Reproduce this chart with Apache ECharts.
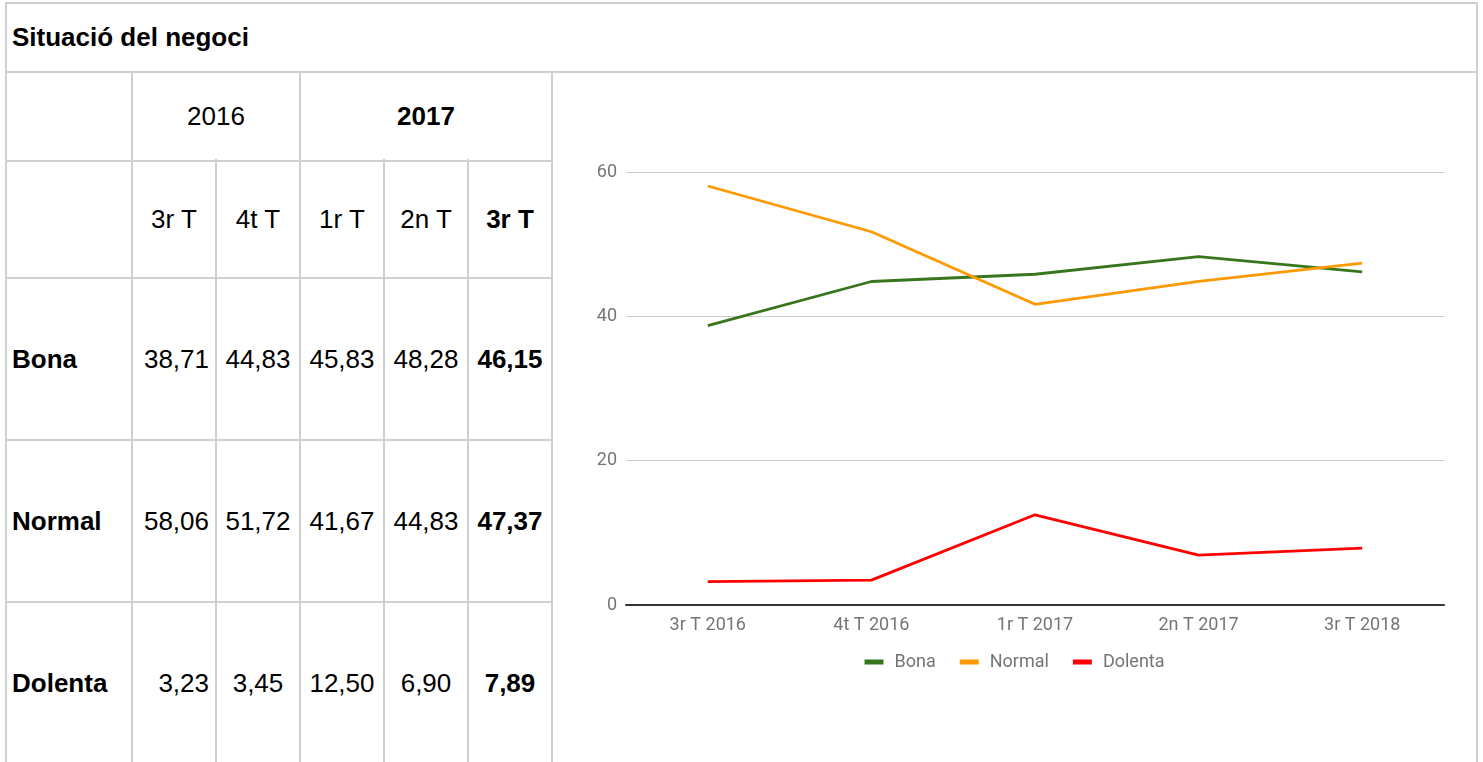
<!DOCTYPE html>
<html>
<head>
<meta charset="utf-8">
<script src="https://cdn.jsdelivr.net/npm/echarts@6/dist/echarts.min.js"></script>
<style>
  html, body { margin: 0; padding: 0; background: #fff; width: 1483px; height: 762px; overflow: hidden; }
  #page { position: relative; width: 1483px; height: 762px; font-family: "Liberation Sans", Arial, sans-serif; color: #000; }
  .ln { position: absolute; background: #d0d0d0; }
  .cell { position: absolute; display: flex; align-items: center; font-size: 26px; white-space: nowrap; box-sizing: border-box; }
  #chart { position: absolute; left: 553px; top: 73px; width: 923px; height: 689px; }
</style>
</head>
<body>
<div id="page"></div>
<div id="chart"></div>
<script>
// ---- data ----
const title = "Situació del negoci";
const years = ["2016", "2017"];
const quarters = ["3r T", "4t T", "1r T", "2n T", "3r T"];
const seriesNames = ["Bona", "Normal", "Dolenta"];
const bona = [38.71, 44.83, 45.83, 48.28, 46.15];
const normal = [58.06, 51.72, 41.67, 44.83, 47.37];
const dolenta = [3.23, 3.45, 12.50, 6.90, 7.89];
const chartCategories = ["3r T 2016", "4t T 2016", "1r T 2017", "2n T 2017", "3r T 2018"];
const yTicks = [0, 20, 40, 60];
const colors = ["#38761d", "#ff9900", "#ff0000"];

// ---- table layout ----
const page = document.getElementById('page');
const cols = [6, 132, 216, 300, 384, 468, 552];
const xRight = 1477;
const rowY = [3, 72, 161, 278, 440, 602, 764];

function line(x, y, w, h) {
  const d = document.createElement('div');
  d.className = 'ln';
  d.style.left = x + 'px'; d.style.top = y + 'px';
  d.style.width = w + 'px'; d.style.height = h + 'px';
  page.appendChild(d);
}
function hline(x1, x2, y) { line(x1 - 1, y - 1, x2 - x1 + 2, 2); }
function vline(x, y1, y2) { line(x - 1, y1 - 1, 2, y2 - y1 + 2); }

function cell(x1, x2, y1, y2, text, opts) {
  opts = opts || {};
  const d = document.createElement('div');
  d.className = 'cell';
  d.style.left = x1 + 'px'; d.style.top = y1 + 'px';
  d.style.width = (x2 - x1) + 'px'; d.style.height = (y2 - y1) + 'px';
  d.style.justifyContent = opts.align || 'center';
  if (opts.padL) d.style.paddingLeft = opts.padL + 'px';
  if (opts.padR) d.style.paddingRight = opts.padR + 'px';
  if (opts.bold) d.style.fontWeight = 'bold';
  d.textContent = text;
  page.appendChild(d);
}

// lines
hline(cols[0], xRight, rowY[0]);
hline(cols[0], xRight, rowY[1]);
for (let i = 2; i <= 5; i++) hline(cols[0], cols[6], rowY[i]);
vline(cols[0], rowY[0], 762);
vline(xRight, rowY[0], 762);
vline(cols[1], rowY[1], 762);
vline(cols[3], rowY[1], 762);
vline(cols[6], rowY[1], 762);
vline(cols[2], rowY[2] - 1, 762);
vline(cols[4], rowY[2] - 1, 762);
vline(cols[5], rowY[2] - 1, 762);

// title
cell(cols[0], xRight, rowY[0], rowY[1], title, { align: 'flex-start', padL: 6, bold: true });
// years
cell(cols[1], cols[3], rowY[1], rowY[2], years[0]);
cell(cols[3], cols[6], rowY[1], rowY[2], years[1], { bold: true });
// quarters
quarters.forEach((q, i) => {
  cell(cols[i + 1], cols[i + 2], rowY[2], rowY[3], q, { bold: i === quarters.length - 1 });
});
// data rows
const tableData = [bona, normal, dolenta];
const fmt = v => v.toFixed(2).replace('.', ',');
seriesNames.forEach((name, r) => {
  const y1 = rowY[3 + r], y2 = rowY[4 + r];
  cell(cols[0], cols[1], y1, y2, name, { align: 'flex-start', padL: 6, bold: true });
  tableData[r].forEach((v, i) => {
    const last = i === tableData[r].length - 1;
    if (i === 0) cell(cols[1], cols[2], y1, y2, fmt(v), { align: 'flex-end', padR: 7 });
    else cell(cols[i + 1], cols[i + 2], y1, y2, fmt(v), { bold: last });
  });
});

// ---- chart ----
const chart = echarts.init(document.getElementById('chart'), null, { renderer: 'canvas' });
const allSeries = [bona, normal, dolenta];
chart.setOption({
  animation: false,
  color: colors,
  grid: { left: 73, right: 32, top: 99, bottom: 157 },
  legend: {
    data: seriesNames,
    left: 'center',
    top: 575,
    icon: 'rect',
    itemWidth: 19,
    itemHeight: 5,
    itemGap: 24,
    textStyle: { fontFamily: 'Roboto', fontSize: 18, color: '#757575', padding: [0, 0, 0, 6] }
  },
  xAxis: {
    type: 'category',
    data: chartCategories,
    boundaryGap: true,
    axisLine: { show: true, lineStyle: { color: '#333', width: 2 } },
    axisTick: { show: false },
    axisLabel: { fontFamily: 'Roboto', fontSize: 18, color: '#757575', margin: 11 }
  },
  yAxis: {
    type: 'value',
    min: 0, max: 60, interval: 20,
    axisLine: { show: false },
    axisTick: { show: false },
    splitLine: { lineStyle: { color: '#cccccc', width: 1 } },
    axisLabel: { fontFamily: 'Roboto', fontSize: 18, color: '#757575', margin: 9,
      formatter: v => yTicks.includes(v) ? String(v) : '' }
  },
  series: seriesNames.map((n, i) => ({
    name: n,
    type: 'line',
    data: allSeries[i],
    symbol: 'none',
    lineStyle: { width: 2.8, color: colors[i] },
    itemStyle: { color: colors[i] }
  }))
});
</script>
</body>
</html>
